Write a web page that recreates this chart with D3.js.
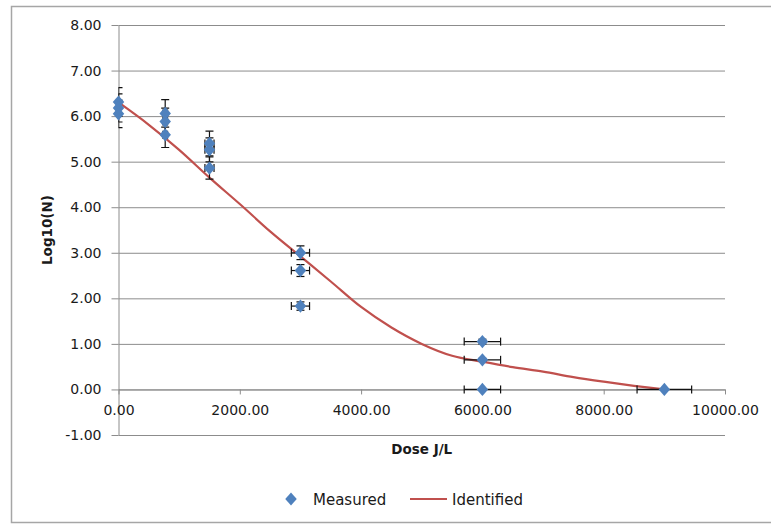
<!DOCTYPE html>
<html>
<head>
<meta charset="utf-8">
<script src="https://cdnjs.cloudflare.com/ajax/libs/d3/7.8.5/d3.min.js"></script>
<style>
  body { margin: 0; background: #fff; }
  svg text { font-family: "DejaVu Sans", sans-serif; fill: #1a1a1a; }
  .grid line { stroke: #8c8c8c; }
  .grid path { display: none; }
  .axis path, .axis line { stroke: #8c8c8c; }
</style>
</head>
<body>
<svg id="chart" width="771" height="526"></svg>
<script>
// measured points (dose J/L, log10 N)
const doseMeasured = [0, 0, 0, 770, 770, 770, 1500, 1500, 1500,
                      3000, 3000, 3000, 6000, 6000, 6000, 9000];
const logMeasured  = [6.31, 6.18, 6.05, 6.06, 5.88, 5.59, 5.40, 5.26, 4.86,
                      3.00, 2.61, 1.83, 1.05, 0.65, 0.00, 0.00];
const errPct = 0.05;   // percentage error bars, both directions

// identified model curve
const doseModel = [0, 500, 1000, 1500, 2000, 2500, 3000, 3500, 4000, 4500,
                   5000, 5500, 6000, 6500, 7000, 7500, 8000, 8500, 9000];
const logModel  = [6.30, 5.81, 5.26, 4.65, 4.07, 3.47, 2.92, 2.37, 1.81, 1.36,
                   1.00, 0.74, 0.61, 0.49, 0.39, 0.27, 0.17, 0.08, 0.00];

const xTicks = [0, 2000, 4000, 6000, 8000, 10000];
const yTicks = [-1, 0, 1, 2, 3, 4, 5, 6, 7, 8];

const svg = d3.select("#chart");
const plotLeft = 118.5, plotRight = 725, plotTop = 25, plotBottom = 435;

const x = d3.scaleLinear().domain([0, 10000]).range([plotLeft, plotRight]);
const y = d3.scaleLinear().domain([-1, 8]).range([plotBottom, plotTop]);
// plain hyphen for negatives, like Excel
const fmt = v => d3.format(".2f")(v).replace("\u2212", "-");

// outer chart frame
svg.append("rect")
   .attr("x", 11.5).attr("y", 6.5)
   .attr("width", 780).attr("height", 516)
   .attr("fill", "none").attr("stroke", "#a6a6a6").attr("stroke-width", 1.5);

// horizontal gridlines
svg.append("g")
   .attr("class", "grid")
   .attr("transform", "translate(" + plotLeft + ",0)")
   .call(d3.axisLeft(y).tickValues(yTicks).tickSize(plotLeft - plotRight).tickFormat(""));

// y axis
let yAxis = svg.append("g")
   .attr("class", "axis")
   .attr("transform", "translate(" + plotLeft + ",0)")
   .call(d3.axisLeft(y).tickValues(yTicks).tickSize(7).tickSizeOuter(0)
           .tickPadding(10).tickFormat(fmt));
yAxis.selectAll("text").style("font-size", "14px");

// x axis crossing at y = 0
let xAxis = svg.append("g")
   .attr("class", "axis")
   .attr("transform", "translate(0," + y(0) + ")")
   .call(d3.axisBottom(x).tickValues(xTicks).tickSize(5).tickSizeOuter(0)
           .tickPadding(11).tickFormat(fmt));
xAxis.selectAll("text").style("font-size", "14px");
svg.selectAll(".axis text").attr("fill", "#1a1a1a");

// axis titles
svg.append("text")
   .attr("x", (plotLeft + plotRight) / 2).attr("y", 454)
   .attr("text-anchor", "middle")
   .style("font-size", "13.5px").style("font-weight", "bold")
   .text("Dose J/L");
svg.append("text")
   .attr("transform", "translate(52,230) rotate(-90)")
   .attr("text-anchor", "middle")
   .style("font-size", "13.5px").style("font-weight", "bold")
   .text("Log10(N)");

// model line
const line = d3.line()
   .x((d, i) => x(doseModel[i]))
   .y((d, i) => y(logModel[i]))
   .curve(d3.curveMonotoneX);
svg.append("path")
   .datum(logModel)
   .attr("d", line)
   .attr("fill", "none")
   .attr("stroke", "#c0504d")
   .attr("stroke-width", 2.2);

// error bars, clipped to the plot area
svg.append("clipPath").attr("id", "plotClip")
   .append("rect")
   .attr("x", plotLeft).attr("y", plotTop)
   .attr("width", plotRight - plotLeft).attr("height", plotBottom - plotTop);

const measured = doseMeasured.map((d, i) => ({ dose: d, val: logMeasured[i] }));
const cap = 4;
const err = svg.append("g")
   .attr("clip-path", "url(#plotClip)")
   .attr("stroke", "#111").attr("stroke-width", 1.2).attr("fill", "none");

measured.forEach(function(d) {
    let cx = x(d.dose), cy = y(d.val);
    let dy = d.val * errPct, dx = d.dose * errPct;
    if (dy > 0) {
        let y1 = y(d.val + dy), y2 = y(d.val - dy);
        err.append("line").attr("x1", cx).attr("x2", cx).attr("y1", y1).attr("y2", y2);
        err.append("line").attr("x1", cx - cap).attr("x2", cx + cap).attr("y1", y1).attr("y2", y1);
        err.append("line").attr("x1", cx - cap).attr("x2", cx + cap).attr("y1", y2).attr("y2", y2);
    }
    if (dx > 0) {
        let x1 = x(d.dose - dx), x2 = x(d.dose + dx);
        err.append("line").attr("x1", x1).attr("x2", x2).attr("y1", cy).attr("y2", cy);
        err.append("line").attr("x1", x1).attr("x2", x1).attr("y1", cy - cap).attr("y2", cy + cap);
        err.append("line").attr("x1", x2).attr("x2", x2).attr("y1", cy - cap).attr("y2", cy + cap);
    }
});

// diamond markers (slightly taller than wide)
const diamond = d3.symbol().type(d3.symbolSquare).size(66);
svg.append("g")
   .selectAll("path")
   .data(measured)
   .enter()
   .append("path")
   .attr("d", diamond)
   .attr("transform", d => "translate(" + x(d.dose) + "," + y(d.val) + ") scale(1,1.15) rotate(45)")
   .attr("fill", "#4f81bd");

// legend
const legend = svg.append("g").attr("transform", "translate(0,499)");
legend.append("path")
   .attr("d", diamond)
   .attr("transform", "translate(291,0) scale(1,1.15) rotate(45)")
   .attr("fill", "#4f81bd");
legend.append("text")
   .attr("x", 313).attr("y", 5.5)
   .style("font-size", "15px")
   .text("Measured");
legend.append("line")
   .attr("x1", 410).attr("x2", 447).attr("y1", 0).attr("y2", 0)
   .attr("stroke", "#c0504d").attr("stroke-width", 2.2);
legend.append("text")
   .attr("x", 452).attr("y", 5.5)
   .style("font-size", "15px")
   .text("Identified");
</script>
</body>
</html>
